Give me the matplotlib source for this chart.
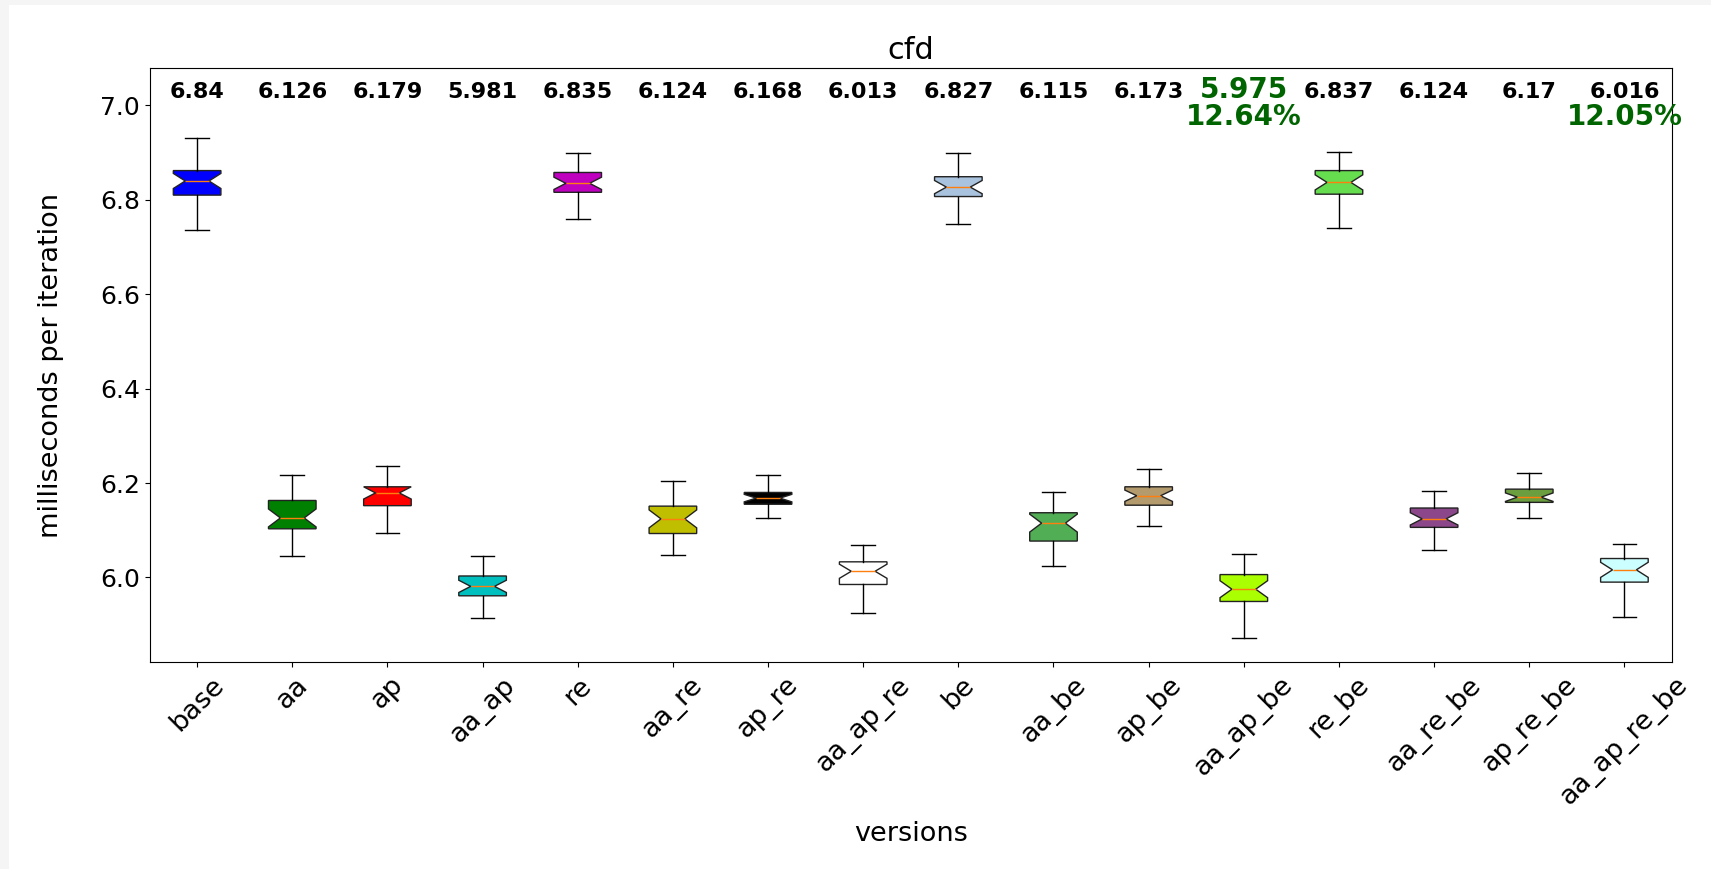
import matplotlib
matplotlib.use('Agg')
import matplotlib.pyplot as plt
from matplotlib.patches import Rectangle

# versions on the x axis
versions = ['base', 'aa', 'ap', 'aa_ap', 're', 'aa_re', 'ap_re', 'aa_ap_re',
            'be', 'aa_be', 'ap_be', 'aa_ap_be', 're_be', 'aa_re_be', 'ap_re_be', 'aa_ap_re_be']

# box statistics (ms per iteration)
whislo = [6.736, 6.046, 6.094, 5.913, 6.759, 6.048, 6.126, 5.924,
          6.749, 6.025, 6.108, 5.871, 6.740, 6.059, 6.126, 5.917]
q1 = [6.810, 6.103, 6.152, 5.961, 6.816, 6.093, 6.155, 5.985,
      6.807, 6.077, 6.153, 5.949, 6.812, 6.106, 6.159, 5.990]
med = [6.84, 6.126, 6.179, 5.981, 6.835, 6.124, 6.168, 6.013,
       6.827, 6.115, 6.173, 5.975, 6.837, 6.124, 6.17, 6.016]
q3 = [6.862, 6.163, 6.192, 6.003, 6.858, 6.151, 6.180, 6.033,
      6.849, 6.137, 6.192, 6.006, 6.862, 6.147, 6.187, 6.040]
whishi = [6.930, 6.216, 6.236, 6.046, 6.899, 6.205, 6.216, 6.069,
          6.899, 6.180, 6.230, 6.049, 6.901, 6.184, 6.221, 6.071]
# notch (confidence interval) limits
cilo = [6.824, 6.107, 6.166, 5.968, 6.822, 6.105, 6.160, 5.998,
        6.813, 6.096, 6.161, 5.957, 6.821, 6.111, 6.161, 6.000]
cihi = [6.856, 6.145, 6.192, 5.994, 6.848, 6.143, 6.176, 6.028,
        6.841, 6.134, 6.185, 5.993, 6.853, 6.137, 6.179, 6.032]

# best version gets its median in green; speedups printed under the medians
best = 11
speedups = {11: '12.64%', 15: '12.05%'}

colors = ['#0000ff', '#008000', '#ff0000', '#00bfbf', '#bf00bf', '#bfbf00', '#000000', '#ffffff',
          '#a9c3de', '#52ae55', '#b39b6d', '#aaff00', '#66dd4f', '#8b4789', '#6b9e3e', '#ccffff']

fig = plt.figure(figsize=(17.11, 8.69), dpi=100, facecolor='#f5f5f5')
# white page with a thin grey margin at the left/top
fig.patches.append(Rectangle((9 / 1711, 0), 1, 1 - 5 / 869, transform=fig.transFigure,
                             facecolor='white', edgecolor='none', zorder=-10))
ax = fig.add_axes([0.0874, 0.2378, 0.8898, 0.6843])

stats = []
for i, name in enumerate(versions):
    stats.append(dict(label=name, whislo=whislo[i], q1=q1[i], med=med[i], q3=q3[i],
                      whishi=whishi[i], cilo=cilo[i], cihi=cihi[i], fliers=[]))

bp = ax.bxp(stats, shownotches=True, patch_artist=True, widths=0.5,
            boxprops=dict(edgecolor='#222222', linewidth=1.0),
            medianprops=dict(color='#ff7f0e', linewidth=1.0),
            whiskerprops=dict(color='black', linewidth=1.0),
            capprops=dict(color='black', linewidth=1.0))
for patch, c in zip(bp['boxes'], colors):
    patch.set_facecolor(c)

ax.set_xlim(0.5, len(versions) + 0.5)
ax.set_ylim(5.82, 7.08)
ax.set_yticks([6.0, 6.2, 6.4, 6.6, 6.8, 7.0])
ax.tick_params(axis='y', labelsize=18)
ax.set_xticks(range(1, len(versions) + 1))
ax.set_xticklabels(versions, rotation=45, fontsize=19.5)

# median values along the top
for i, m in enumerate(med):
    if i == best:
        ax.text(i + 1, 7.016, str(m), ha='center', va='baseline', fontsize=20,
                fontweight='bold', color='#006400')
    else:
        ax.text(i + 1, 7.016, str(m), ha='center', va='baseline', fontsize=16,
                fontweight='bold', color='black')
    if i in speedups:
        ax.text(i + 1, 6.959, speedups[i], ha='center', va='baseline', fontsize=20,
                fontweight='bold', color='#006400')

ax.set_title('cfd', fontsize=22)
ax.set_xlabel('versions', fontsize=19.5, labelpad=8)
ax.set_ylabel('milliseconds per iteration', fontsize=19.5, labelpad=26)

fig.savefig('out.png', dpi=100, facecolor=fig.get_facecolor())
